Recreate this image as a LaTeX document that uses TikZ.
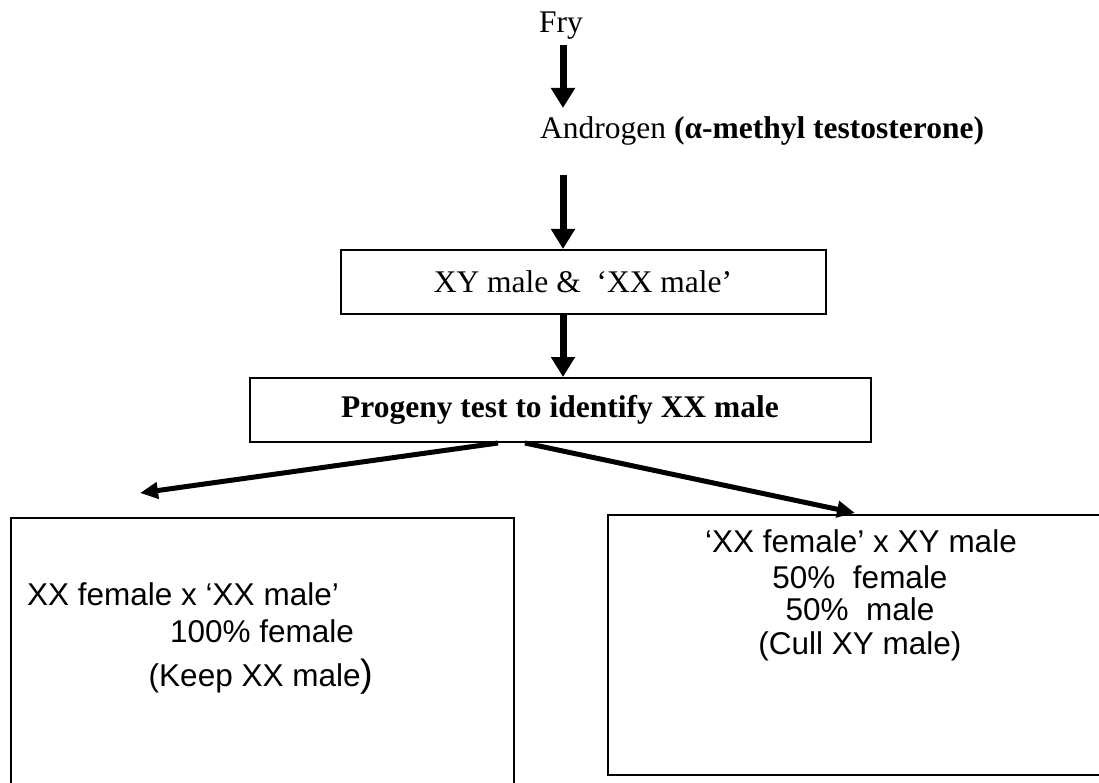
\documentclass[tikz,border=0pt]{standalone}
\usepackage{fontspec}
\setmainfont{Liberation Serif}
\newfontfamily\arialfont{Liberation Sans}
\usetikzlibrary{arrows.meta}
\begin{document}
\begin{tikzpicture}[x=1pt,y=-1pt,
  serif/.style={font=\fontsize{31.5}{35}\selectfont, inner sep=0pt},
  sans/.style={font=\arialfont\fontsize{31.5}{35}\selectfont, inner sep=0pt},
  box/.style={draw, line width=2pt, inner sep=0pt},
  downarrow/.style={line width=7pt, -{Triangle[length=20pt,width=23pt]}},
  slantarrow/.style={line width=5pt, -{Triangle[length=18pt,width=16pt]}}
]
\useasboundingbox (0,0) rectangle (1099,783);
\clip (0,0) rectangle (1099,783);

% title and androgen treatment
\node[serif, anchor=base] (fry) at (561,33) {Fry};
\node[serif, anchor=base west] (andro) at (540,139)
  {Androgen \textbf{(α-methyl testosterone)}};

% flow boxes
\node[box, minimum width=485pt, minimum height=64pt] (mixed) at (583.5,282) {};
\node[serif] (mixedtxt) at (583,282) {XY male \&\ \ ‘XX male’};
\node[box, minimum width=621pt, minimum height=64pt] (test) at (560.5,410) {};
\node[serif] (testtxt) at (560,410) {\textbf{Progeny test to identify XX male}};

% outcome boxes (left one runs past the lower edge, right one past the side)
\node[box, anchor=north west, minimum width=503pt, minimum height=320pt] (left) at (10,517) {};
\node[box, anchor=north west, minimum width=510pt, minimum height=260pt] (right) at (607,514) {};

\node[sans, anchor=base west] (l1) at (27,605) {XX female x ‘XX male’};
\node[sans, anchor=base] (l2) at (262,642) {100\% female};
\node[sans, anchor=base] (l3) at (261,686) {(Keep XX male{\fontsize{38}{40}\selectfont)}};

\node[sans, anchor=base] (r1) at (861,552) {‘XX female’ x XY male};
\node[sans, anchor=base] (r2) at (860,588) {50\%\ \ female};
\node[sans, anchor=base] (r3) at (860,620) {50\%\ \ male};
\node[sans, anchor=base] (r4) at (860,654) {(Cull XY male)};

% connectors
\coordinate (a1s) at (563,45);
\coordinate (a1e) at (563,108);
\coordinate (a2s) at (563,175);
\coordinate (ls) at (498,443);
\coordinate (le) at (140,493);
\coordinate (rs) at (525,443);
\coordinate (re) at (855,513);

\draw[downarrow] (a1s) -- (a1e);
\draw[downarrow] (a2s) -- (a2s |- mixed.north);
\draw[downarrow] (a2s |- mixed.south) -- (a2s |- test.north);
\draw[slantarrow] (ls) -- (le);
\draw[slantarrow] (rs) -- (re);
\end{tikzpicture}
\end{document}
